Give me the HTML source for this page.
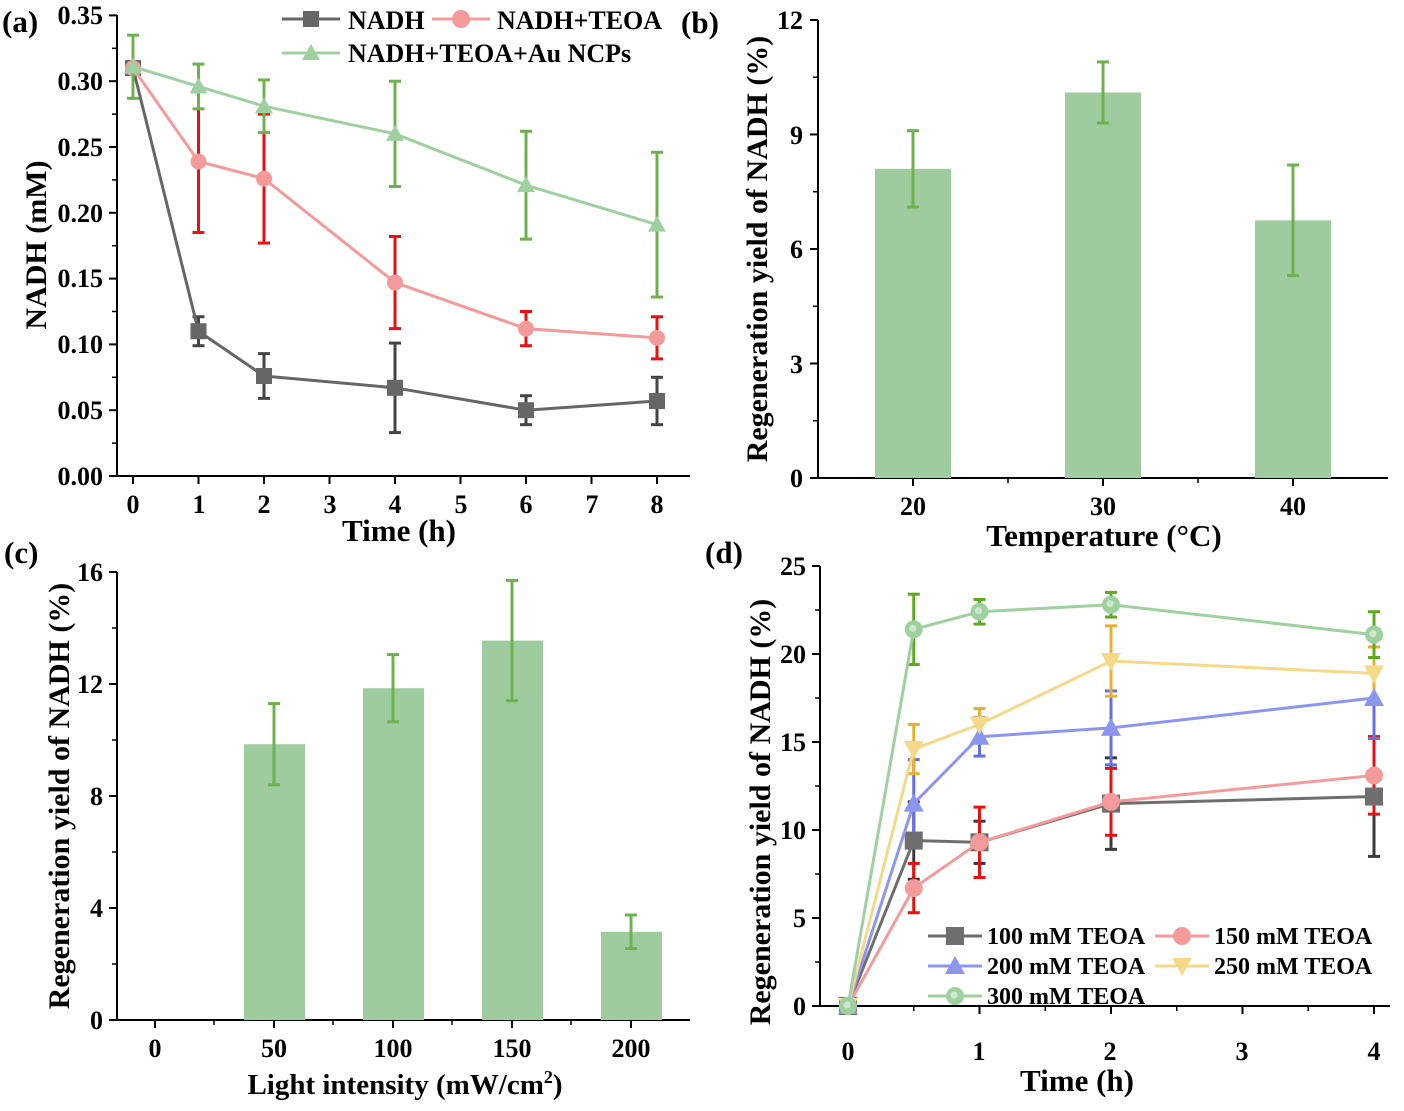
<!DOCTYPE html>
<html><head><meta charset="utf-8"><style>
html,body{margin:0;padding:0;background:#fff}
svg text{font-family:"Liberation Serif",serif;font-weight:bold;fill:#000}
</style></head><body>
<svg id="s" width="1404" height="1106" viewBox="0 0 1404 1106" xmlns="http://www.w3.org/2000/svg">
<g id="g"></g>
<text x="2" y="32" font-size="31">(a)</text>
<text x="681" y="33" font-size="31">(b)</text>
<text x="4" y="563" font-size="31">(c)</text>
<text x="705" y="563" font-size="31">(d)</text>
<!-- (a) -->
<g font-size="26" text-anchor="end">
<text x="103" y="24">0.35</text><text x="103" y="90">0.30</text><text x="103" y="156">0.25</text><text x="103" y="222">0.20</text><text x="103" y="287">0.15</text><text x="103" y="353">0.10</text><text x="103" y="419">0.05</text><text x="103" y="485">0.00</text>
</g>
<g font-size="26" text-anchor="middle">
<text x="133" y="513">0</text><text x="199" y="513">1</text><text x="264" y="513">2</text><text x="330" y="513">3</text><text x="395" y="513">4</text><text x="461" y="513">5</text><text x="526" y="513">6</text><text x="592" y="513">7</text><text x="657" y="513">8</text>
</g>
<text x="399" y="541" font-size="31" text-anchor="middle">Time (h)</text>
<text transform="translate(46,245) rotate(-90)" font-size="30" text-anchor="middle">NADH (mM)</text>
<text x="348" y="29" font-size="26">NADH</text>
<text x="497" y="29" font-size="26">NADH+TEOA</text>
<text x="348" y="62" font-size="26">NADH+TEOA+Au NCPs</text>
<!-- (b) -->
<g font-size="26" text-anchor="end">
<text x="803" y="29">12</text><text x="803" y="144">9</text><text x="803" y="258">6</text><text x="803" y="373">3</text><text x="803" y="487">0</text>
</g>
<g font-size="26" text-anchor="middle">
<text x="913" y="515">20</text><text x="1103" y="515">30</text><text x="1293" y="515">40</text>
</g>
<text x="1104" y="546" font-size="31" text-anchor="middle">Temperature (°C)</text>
<text transform="translate(767,249) rotate(-90)" font-size="30" text-anchor="middle">Regeneration yield of NADH (%)</text>
<!-- (c) -->
<g font-size="26" text-anchor="end">
<text x="103" y="581">16</text><text x="103" y="693">12</text><text x="103" y="805">8</text><text x="103" y="917">4</text><text x="103" y="1029">0</text>
</g>
<g font-size="26" text-anchor="middle">
<text x="155" y="1057">0</text><text x="274" y="1057">50</text><text x="393" y="1057">100</text><text x="512" y="1057">150</text><text x="631" y="1057">200</text>
</g>
<text x="405" y="1094" font-size="29" text-anchor="middle">Light intensity (mW/cm<tspan font-size="18" dy="-11">2</tspan><tspan dy="11">)</tspan></text>
<text transform="translate(69,796) rotate(-90)" font-size="30" text-anchor="middle">Regeneration yield of NADH (%)</text>
<!-- (d) -->
<g font-size="26" text-anchor="end">
<text x="806" y="575">25</text><text x="806" y="663">20</text><text x="806" y="751">15</text><text x="806" y="839">10</text><text x="806" y="927">5</text><text x="806" y="1015">0</text>
</g>
<g font-size="26" text-anchor="middle">
<text x="848" y="1060">0</text><text x="979" y="1060">1</text><text x="1110" y="1060">2</text><text x="1242" y="1060">3</text><text x="1374" y="1060">4</text>
</g>
<text x="1077" y="1091" font-size="31" text-anchor="middle">Time (h)</text>
<text transform="translate(770,812) rotate(-90)" font-size="30" text-anchor="middle">Regeneration yield of NADH (%)</text>
<g font-size="24">
<text x="987" y="944">100 mM TEOA</text><text x="1214" y="944">150 mM TEOA</text>
<text x="987" y="974">200 mM TEOA</text><text x="1214" y="974">250 mM TEOA</text>
<text x="987" y="1004">300 mM TEOA</text>
</g>
</svg>
<script>
const G=document.getElementById('g');const NS='http://www.w3.org/2000/svg';
function el(t,a){const e=document.createElementNS(NS,t);for(const k in a)e.setAttribute(k,a[k]);G.appendChild(e);return e;}
function line(x1,y1,x2,y2,c,w){el('line',{x1,y1,x2,y2,stroke:c,'stroke-width':w||2});}
function marker(type,x,y,c,r){r=r||8;
 if(type=='s')el('rect',{x:x-r,y:y-r,width:2*r,height:2*r,fill:c});
 else if(type=='o')el('circle',{cx:x,cy:y,r:r,fill:c});
 else if(type=='t')el('polygon',{points:`${x},${y-r-1} ${x-r-1},${y+r-1} ${x+r+1},${y+r-1}`,fill:c});
 else if(type=='v')el('polygon',{points:`${x},${y+r+1} ${x-r-1},${y-r+1} ${x+r+1},${y-r+1}`,fill:c});
 else if(type=='g'){el('circle',{cx:x,cy:y,r:r,fill:c});el('circle',{cx:x-1,cy:y-1,r:r*0.4,fill:'#cfe6cf'});}
}
function err(x,y1,y2,c){line(x,y1,x,y2,c,3);line(x-6,y1,x+6,y1,c,3);line(x-6,y2,x+6,y2,c,3);}
function axes(x0,y0,x1,y1,yt,ymin,xt,xmin){
 line(x0,y0,x0,y1,'#000',2);line(x0,y0,x1,y0,'#000',2);
 yt.forEach(v=>line(x0-8,v,x0,v,'#000',2));(ymin||[]).forEach(v=>line(x0-5,v,x0,v,'#000',1.5));
 xt.forEach(v=>line(v,y0,v,y0+8,'#000',2));(xmin||[]).forEach(v=>line(v,y0,v,y0+5,'#000',1.5));
}
const ax=h=>133+h*65.5, ay=v=>476-v/0.05*65.8;
let ya=[],yam=[];for(let i=0;i<=7;i++){ya.push(ay(i*0.05));yam.push(ay(i*0.05+0.025));}yam.pop();
let xa=[];for(let i=0;i<=8;i++)xa.push(ax(i));
axes(117,476,690,15,ya,yam,xa,[]);
const ah=[0,1,2,4,6,8];
const A=[
 {c:'#666',e:'#444',m:'s',d:[.31,.11,.076,.067,.05,.057],s:[0,.011,.017,.034,.011,.018]},
 {c:'#f59a9a',e:'#e81010',m:'o',d:[.31,.239,.226,.147,.112,.105],s:[0,.054,.049,.035,.013,.016]},
 {c:'#9fd09f',e:'#6fb04f',m:'t',d:[.311,.296,.281,.26,.221,.191],s:[.024,.017,.02,.04,.041,.055]}];
A.forEach(S=>{S.d.forEach((v,i)=>{if(S.s[i])err(ax(ah[i]),ay(v+S.s[i]),ay(v-S.s[i]),S.e);});
 el('polyline',{points:S.d.map((v,i)=>ax(ah[i])+','+ay(v)).join(' '),fill:'none',stroke:S.c,'stroke-width':3});
 S.d.forEach((v,i)=>marker(S.m,ax(ah[i]),ay(v),S.c,8));});
line(282,19,340,19,'#666',3);marker('s',311,19,'#666',8);
line(432,19,490,19,'#f59a9a',3);marker('o',461,19,'#f59a9a',9);
line(282,53,340,53,'#9fd09f',3);marker('t',311,53,'#9fd09f',8);
const by=v=>478-v*38.17;
axes(818,478,1388,20,[0,3,6,9,12].map(by),[1.5,4.5,7.5,10.5].map(by),[913,1103,1293],[1008,1198]);
[[913,8.1,1.0],[1103,10.1,0.8],[1293,6.75,1.45]].forEach(([x,v,s])=>{el('rect',{x:x-38,y:by(v),width:76,height:478-by(v),fill:'#9fcc9f'});err(x,by(v+s),by(v-s),'#6fb04f');});
const cy=v=>1020-v*28;
axes(117,1020,690,572,[0,4,8,12,16].map(cy),[2,6,10,14].map(cy),[155,274,393,512,631],[214,333,452,571]);
[[274,9.85,1.45],[393,11.85,1.2],[512,13.55,2.15],[631,3.15,0.6]].forEach(([x,v,s])=>{el('rect',{x:x-30,y:cy(v),width:61,height:1020-cy(v),fill:'#9fcc9f'});err(x,cy(v+s),cy(v-s),'#6fb04f');});
const dx=h=>848+h*131.5, dy=v=>1006-v*17.6;
axes(820,1006,1390,566,[0,5,10,15,20,25].map(dy),[2.5,7.5,12.5,17.5,22.5].map(dy),[0,1,2,3,4].map(dx),[.5,1.5,2.5,3.5].map(dx));
const dh=[0,.5,1,2,4];
const D=[
 {c:'#6e6e6e',e:'#3a3a3a',m:'s',d:[0,9.4,9.3,11.5,11.9],s:[0,2.2,1.2,2.6,3.4]},
 {c:'#f59a9a',e:'#e81010',m:'o',d:[0,6.7,9.3,11.6,13.1],s:[0,1.4,2.0,1.9,2.2]},
 {c:'#8c96f0',e:'#6470e8',m:'t',d:[0,11.5,15.3,15.8,17.5],s:[0,2.5,1.1,2.1,2.3]},
 {c:'#f5d98a',e:'#e8b030',m:'v',d:[0,14.6,16.0,19.6,18.9],s:[0,1.4,0.9,2.0,1.5]},
 {c:'#9fd09f',e:'#5fa820',m:'g',d:[0,21.4,22.4,22.8,21.1],s:[0,2.0,0.7,0.7,1.3]}];
D.forEach(S=>{S.d.forEach((v,i)=>{if(S.s[i])err(dx(dh[i]),dy(v+S.s[i]),dy(v-S.s[i]),S.e);});});
D.forEach(S=>{el('polyline',{points:S.d.map((v,i)=>dx(dh[i])+','+dy(v)).join(' '),fill:'none',stroke:S.c,'stroke-width':3});
 S.d.forEach((v,i)=>marker(S.m,dx(dh[i]),dy(v),S.c,9));});
[[928,936,0],[1155,936,1],[928,966,2],[1155,966,3],[928,996,4]].forEach(([x,y,k])=>{const S=D[k];line(x,y,x+54,y,S.c,3);marker(S.m,x+27,y,S.c,9);});
</script>
</body></html>
